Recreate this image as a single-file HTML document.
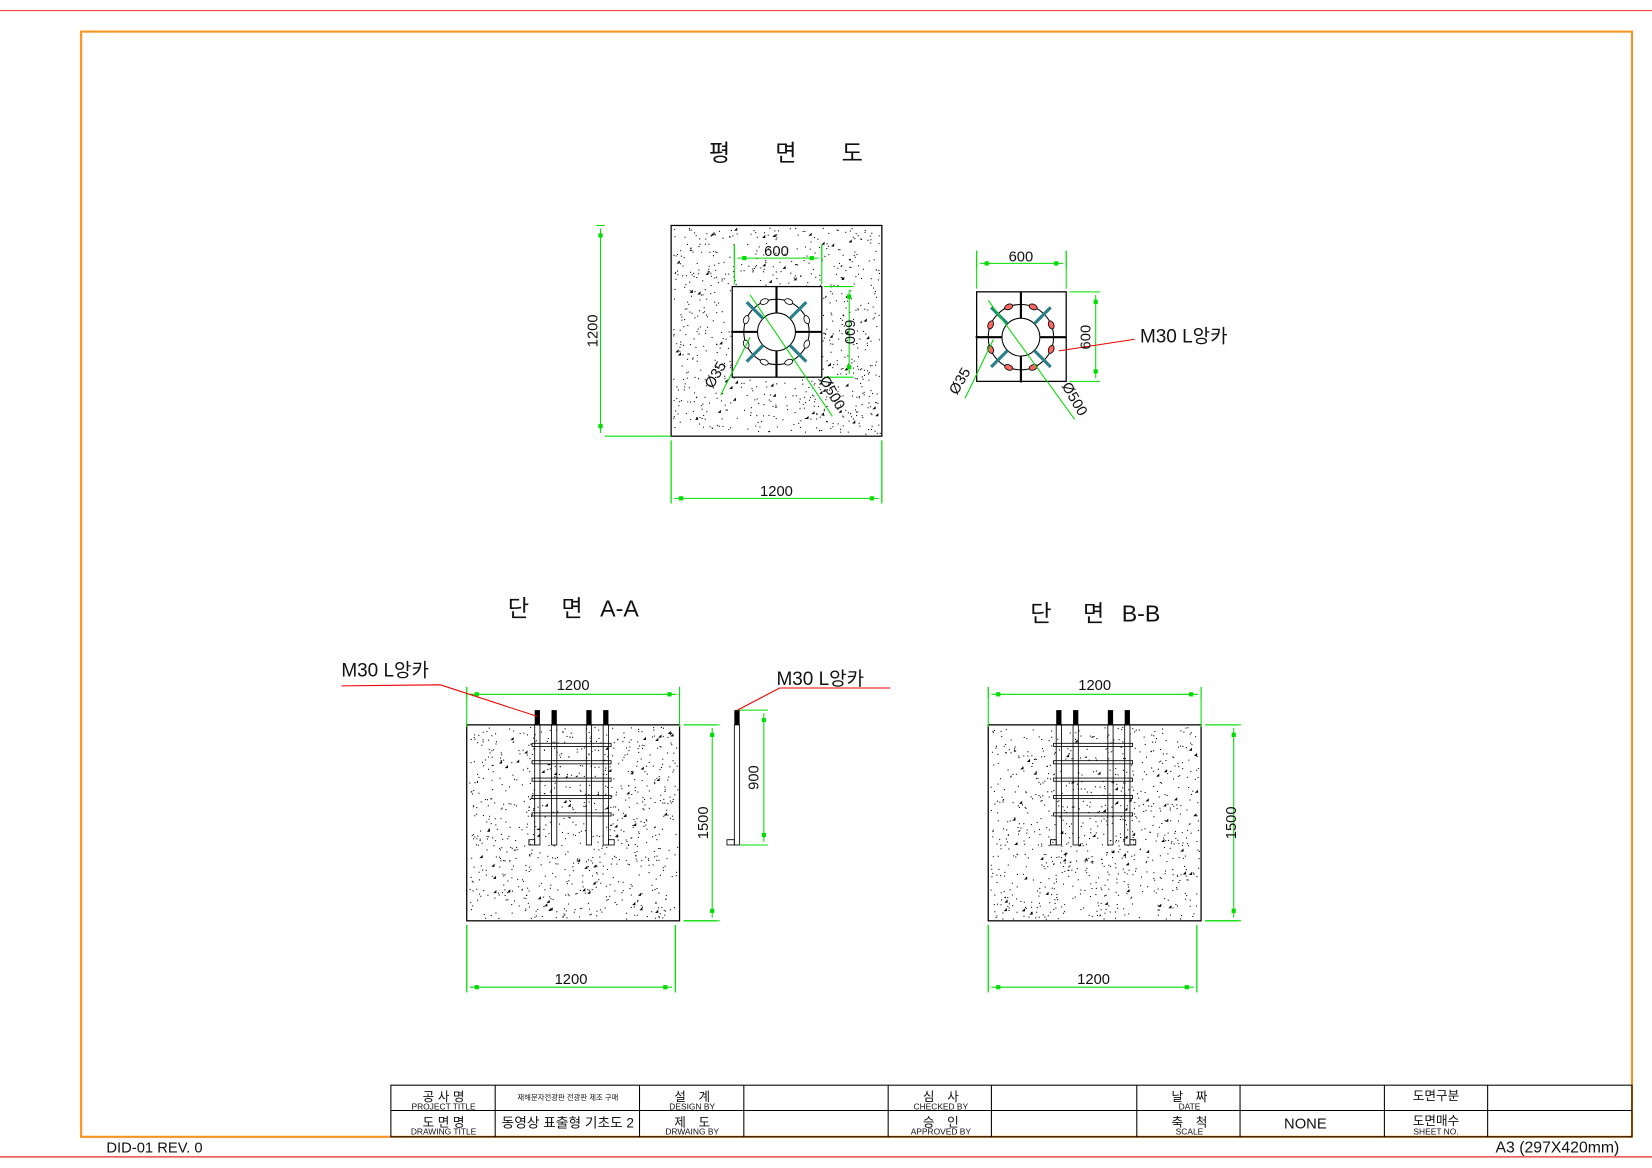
<!DOCTYPE html>
<html><head><meta charset="utf-8"><style>
html,body{margin:0;padding:0;background:#fff;}
svg{display:block;}
text{font-family:"Liberation Sans","Noto Sans CJK KR",sans-serif;fill:#111;}
</style></head><body>
<svg id="s" width="1652" height="1168" viewBox="0 0 1568 1108.6" preserveAspectRatio="none" xmlns="http://www.w3.org/2000/svg">
<rect width="1568" height="1109" fill="#fff"/>
<line x1="0" y1="10" x2="1568" y2="10" stroke="#f44" stroke-width="1"/>
<line x1="0" y1="1098" x2="1568" y2="1098" stroke="#e22" stroke-width="1.2"/>
<rect x="77" y="30" width="1472" height="1049" fill="none" stroke="#f7931e" stroke-width="2"/>
<g id="conc"></g>
<g id="draw" stroke="#000" fill="none" stroke-width="1.2"></g>
<g id="dims" stroke="#0d0" fill="none" stroke-width="1"></g>
<g id="red" stroke="#e00" fill="none" stroke-width="1">
 <polyline points="1077,322 1005,333"/>
 <polyline points="324,651 418,650 510,680"/>
 <polyline points="845,653 740,653 700,674"/>
</g>
<g font-size="22" text-anchor="middle">
 <text x="683" y="153">평</text><text x="746" y="153">면</text><text x="809" y="153">도</text>
 <text x="492" y="585">단</text><text x="543" y="585">면</text><text x="588" y="585">A-A</text>
 <text x="988" y="590">단</text><text x="1038" y="590">면</text><text x="1083" y="590">B-B</text>
</g>
<g font-size="18">
 <text x="1082" y="325">M30 L앙카</text>
 <text x="324" y="642">M30 L앙카</text>
 <text x="737" y="650">M30 L앙카</text>
</g>
<g font-size="14" text-anchor="middle">
 <text x="737" y="471">1200</text>
 <text x="737" y="243">600</text>
 <text x="969" y="248">600</text>
 <text x="544" y="655">1200</text>
 <text x="542" y="934">1200</text>
 <text x="1039" y="655">1200</text>
 <text x="1038" y="934">1200</text>
 <text transform="translate(567,314) rotate(-90)">1200</text>
 <text transform="translate(802,315) rotate(90)">600</text>
 <text transform="translate(1035,320) rotate(-90)">600</text>
 <text transform="translate(672,781) rotate(-90)">1500</text>
 <text transform="translate(720,738) rotate(-90)">900</text>
 <text transform="translate(1173,781) rotate(-90)">1500</text>
 <text transform="translate(683,358) rotate(-60)">Ø35</text>
 <text transform="translate(786,375) rotate(60)">Ø500</text>
 <text transform="translate(915,364) rotate(-60)">Ø35</text>
 <text transform="translate(1016,381) rotate(60)">Ø500</text>
</g>
<g stroke="#000" stroke-width="1" fill="none">
 <rect x="371" y="1030" width="1178" height="49"/>
 <line x1="371" y1="1054" x2="1549" y2="1054"/>
 <line x1="470" y1="1030" x2="470" y2="1079"/><line x1="607" y1="1030" x2="607" y2="1079"/>
 <line x1="706" y1="1030" x2="706" y2="1079"/><line x1="843" y1="1030" x2="843" y2="1079"/>
 <line x1="941" y1="1030" x2="941" y2="1079"/><line x1="1079" y1="1030" x2="1079" y2="1079"/>
 <line x1="1177" y1="1030" x2="1177" y2="1079"/><line x1="1314" y1="1030" x2="1314" y2="1079"/>
 <line x1="1412" y1="1030" x2="1412" y2="1079"/>
</g>
<g text-anchor="middle" fill="#333">
 <g font-size="12"><text x="421" y="1045">공 사 명</text><text x="657" y="1045">설　계</text><text x="893" y="1045">심　사</text><text x="1129" y="1045">날　짜</text><text x="1363" y="1044">도면구분</text>
 <text x="421" y="1069">도 면 명</text><text x="657" y="1069">제　도</text><text x="893" y="1069">승　인</text><text x="1129" y="1069">축　척</text><text x="1363" y="1068">도면매수</text></g>
 <g font-size="8"><text x="421" y="1053">PROJECT TITLE</text><text x="657" y="1053">DESIGN BY</text><text x="893" y="1053">CHECKED BY</text><text x="1129" y="1053">DATE</text>
 <text x="421" y="1077">DRAWING TITLE</text><text x="657" y="1077">DRWAING BY</text><text x="893" y="1077">APPROVED BY</text><text x="1129" y="1077">SCALE</text><text x="1363" y="1077">SHEET NO.</text></g>
 <text x="539" y="1044" font-size="7">재해문자전광판 전광판 제조 구매</text>
 <text x="539" y="1070" font-size="13">동영상 표출형 기초도 2</text>
 <text x="1239" y="1071" font-size="14" fill="#000">NONE</text>
</g>
<text x="101" y="1094" font-size="14" fill="#333">DID-01 REV. 0</text>
<text x="1537" y="1094" font-size="15" fill="#333" text-anchor="end">A3 (297X420mm)</text>
</svg>
<script>
var NS="http://www.w3.org/2000/svg";
function el(p,t,a){var e=document.createElementNS(NS,t);for(var k in a)e.setAttribute(k,a[k]);document.getElementById(p).appendChild(e);return e;}
var seed=7;function r(){seed=(seed*16807)%2147483647;return seed/2147483647;}
function conc(x,y,w,h){el('draw','rect',{x:x,y:y,width:w,height:h});
 var n=Math.floor(w*h/45);for(var i=0;i<n;i++)el('conc','rect',{x:x+2+r()*(w-4),y:y+2+r()*(h-4),width:1,height:1,fill:'#000'});
 var m=Math.floor(w*h/700);for(i=0;i<m;i++){var a=x+4+r()*(w-8),b=y+4+r()*(h-8);el('conc','polygon',{points:a+','+b+' '+(a+3)+','+(b-3)+' '+(a+3)+','+b,fill:'#000'});}}
function L(p,x1,y1,x2,y2,extra){var a={x1:x1,y1:y1,x2:x2,y2:y2};for(var k in extra)a[k]=extra[k];return el(p,'line',a);}
function dimH(x1,x2,y,e1,e2){L('dims',x1+3,y,x2-3,y);L('dims',x1,e1,x1,y+4);L('dims',x2,e2,x2,y+4);el('dims','rect',{x:x1+8,y:y-1.5,width:3,height:3,fill:'#0d0'});el('dims','rect',{x:x2-11,y:y-1.5,width:3,height:3,fill:'#0d0'});}
function dimV(y1,y2,x,e1,e2){L('dims',x,y1+3,x,y2-3);L('dims',e1,y1,x+4,y1);L('dims',e2,y2,x+4,y2);el('dims','rect',{x:x-1.5,y:y1+8,width:3,height:3,fill:'#0d0'});el('dims','rect',{x:x-1.5,y:y2-11,width:3,height:3,fill:'#0d0'});}
// plan
conc(637,214,200,200);
el('draw','rect',{x:695,y:272,width:85,height:86,fill:'#fff'});
function plate(cx,cy,red){
 el('draw','circle',{cx:cx,cy:cy,r:31,'stroke-width':1});
 el('draw','circle',{cx:cx,cy:cy,r:18,fill:'#fff','stroke-width':1});
 L('draw',cx,cy-43,cx,cy-18,{'stroke-width':2});L('draw',cx,cy+18,cx,cy+43,{'stroke-width':2});
 L('draw',cx-43,cy,cx-18,cy,{'stroke-width':2});L('draw',cx+18,cy,cx+43,cy,{'stroke-width':2});
 [45,135,225,315].forEach(function(d){var c=Math.cos(d*Math.PI/180),s=Math.sin(d*Math.PI/180);L('draw',cx+c*18,cy+s*18,cx+c*40,cy+s*40,{stroke:'#2a7f8a','stroke-width':3});});
 [22,68,112,158,202,248,292,338].forEach(function(d){var c=Math.cos(d*Math.PI/180),s=Math.sin(d*Math.PI/180);el('draw','ellipse',{cx:cx+c*31,cy:cy+s*31,rx:4,ry:2.5,fill:red?'#f66':'#fff','stroke-width':0.8,transform:'rotate('+(d+90)+' '+(cx+c*31)+' '+(cy+s*31)+')'});});
}
plate(737,315,false);
el('draw','rect',{x:927,y:277,width:85,height:85,fill:'#fff'});
plate(969,320,true);
dimV(214,414,570,566,637);
dimH(637,837,473,418,418);
L('dims',637,418,637,478);L('dims',837,418,837,478);
dimH(697,780,245,232,232);L('dims',697,232,697,270);L('dims',780,232,780,270);
dimV(272,358,806,782,782);
dimH(927,1012,250,238,238);L('dims',927,238,927,274);L('dims',1012,238,1012,274);
dimV(277,362,1040,1015,1015);
L('dims',712,280,790,395);L('dims',719,320,719,320);L('dims',684,375,712,320);
L('dims',938,285,1020,398);L('dims',916,378,943,322);
// sections
function section(x0,bolts){
 conc(x0,688,202,186);
 for(var j=0;j<5;j++){var y=707+j*16.5;el('draw','rect',{x:bolts[0]-5,y:y-1.5,width:bolts[3]-bolts[0]+10,height:3,fill:'#fff','stroke-width':0.8});}
 bolts.forEach(function(bx,i){
  el('draw','rect',{x:bx-2.5,y:674,width:5,height:14,fill:'#000',stroke:'none'});
  el('draw','rect',{x:bx-2.5,y:688,width:5,height:114,fill:'none','stroke-width':0.8});
  if(i==0)el('draw','rect',{x:bx-8,y:797,width:5.5,height:5,'stroke-width':0.8});
  if(i==3)el('draw','rect',{x:bx+2.5,y:797,width:5.5,height:5,'stroke-width':0.8});
 });
 dimH(x0,x0+202,659,652,652);L('dims',x0,652,x0,690);L('dims',x0+202,652,x0+202,690);
 dimV(688,874,x0+233,x0+206,x0+206);L('dims',x0+206,688,x0+240,688);L('dims',x0+206,874,x0+240,874);
 dimH(x0,x0+198,937,878,878);L('dims',x0,878,x0,942);L('dims',x0+198,878,x0+198,942);
}
section(443,[510,526,559,575]);
section(938,[1005,1021,1054,1070]);
el('draw','rect',{x:697,y:674,width:5,height:14,fill:'#000',stroke:'none'});
el('draw','rect',{x:697,y:688,width:5,height:114,'stroke-width':0.8});
el('draw','rect',{x:690,y:797,width:7,height:5,'stroke-width':0.8});
dimV(674,802,725,702,702);
</script>
</body></html>
